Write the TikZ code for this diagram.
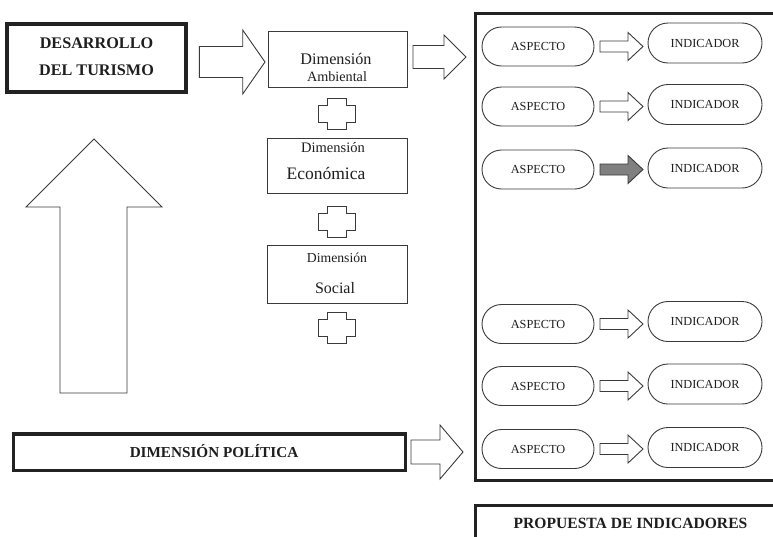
\documentclass[tikz,border=0pt]{standalone}
\usepackage{fontspec}
\setmainfont{Liberation Serif}
\definecolor{ln}{HTML}{3A3A3A}
\definecolor{thk}{HTML}{222222}
\definecolor{txt}{HTML}{1E1E1E}
\definecolor{grayfill}{HTML}{808080}
\newcommand\rkarrow[7]{\filldraw[arrowshape,fill=#1] (#2,#5-#6) -- (#3,#5-#6) -- (#3,#5-#7) -- (#4,#5) -- (#3,#5+#7) -- (#3,#5+#6) -- (#2,#5+#6) -- cycle;}
\newcommand\rkcross[2]{\filldraw[arrowshape,fill=white] (#1-9.5,#2-15.5) -- (#1+9.5,#2-15.5) -- (#1+9.5,#2-8.5) -- (#1+18.5,#2-8.5) -- (#1+18.5,#2+8.5) -- (#1+9.5,#2+8.5) -- (#1+9.5,#2+15.5) -- (#1-9.5,#2+15.5) -- (#1-9.5,#2+8.5) -- (#1-18.5,#2+8.5) -- (#1-18.5,#2-8.5) -- (#1-9.5,#2-8.5) -- cycle;}
\tikzset{
  arrowshape/.style={draw=ln, line width=0.9pt, line join=miter},
  thinbox/.style={draw=ln, line width=0.9pt, fill=white, inner sep=0pt},
  thickbox/.style={draw=thk, line width=3.5pt, fill=white, inner sep=0pt},
  bigbox/.style={draw=thk, line width=3pt, inner sep=0pt},
  pill/.style={draw=ln, line width=0.9pt, rounded corners=19.5pt, inner sep=0pt, text=txt, font=\fontsize{12.3}{14}\selectfont},
  lbl/.style={anchor=base, text=txt, inner sep=0pt},
}
\begin{document}
\begin{tikzpicture}[x=1pt,y=-1pt]
\useasboundingbox (0,0) rectangle (773,536);
\clip (0,0) rectangle (773,536);
% large frames on the right
\node[bigbox, anchor=north west, minimum width=340pt, minimum height=467pt] (frame) at (473.5,11.5) {};
\node[bigbox, anchor=north west, minimum width=340pt, minimum height=60pt] (prop) at (473.5,504) {};
\node[lbl, font=\bfseries\fontsize{15.6}{18}\selectfont] (propt) at (630.5,528) {PROPUESTA DE INDICADORES};
% left boxes
\node[thickbox, minimum width=179pt, minimum height=68pt] (des) at (96.5,58) {};
\node[lbl, font=\bfseries\fontsize{16.2}{18}\selectfont] (des1) at (96.5,48.3) {DESARROLLO};
\node[lbl, font=\bfseries\fontsize{16.2}{18}\selectfont] (des2) at (96.5,75) {DEL TURISMO};
\node[thickbox, minimum width=392pt, minimum height=36.5pt] (pol) at (209.5,452) {};
\node[lbl, font=\bfseries\fontsize{15.2}{18}\selectfont] (polt) at (214,457) {DIMENSIÓN POLÍTICA};
% dimension boxes
\node[thinbox, minimum width=139pt, minimum height=56pt] (amb) at (337.5,59) {};
\node[lbl, font=\fontsize{16.2}{18}\selectfont] (amb1) at (336,64) {Dimensión};
\node[lbl, font=\fontsize{14.2}{16}\selectfont] (amb2) at (337,81) {Ambiental};
\node[thinbox, minimum width=140pt, minimum height=55pt] (eco) at (337,165.5) {};
\node[lbl, font=\fontsize{14.5}{16}\selectfont] (eco1) at (333,152.5) {Dimensión};
\node[lbl, font=\fontsize{17.5}{19}\selectfont] (eco2) at (326,179) {Económica};
\node[thinbox, minimum width=140pt, minimum height=58pt] (soc) at (337,274) {};
\node[lbl, font=\fontsize{13.7}{16}\selectfont] (soc1) at (337,262) {Dimensión};
\node[lbl, font=\fontsize{16}{18}\selectfont] (soc2) at (335,293) {Social};
% block arrows
\rkarrow{white}{199.3}{242.7}{265}{62}{15.5}{32}
\rkarrow{white}{413}{444}{466}{57}{11.5}{22}
\rkarrow{white}{411}{440}{463}{452}{12}{27}
\filldraw[arrowshape, fill=white] (60,393) -- (60,207) -- (26,207) -- (94,139) -- (162,207) -- (127,207) -- (127,393) -- cycle;
% crosses
\rkcross{336.5}{113.5}
\rkcross{336.5}{221.5}
\rkcross{336.5}{327.5}
% aspect / indicator rows
\foreach \i/\ya/\yb/\fc in {1/46.5/43/white, 2/106.5/104.5/white, 3/169.5/168/grayfill, 4/324/321.5/white, 5/386/384/white, 6/449/447.5/white}{
  \node[pill, minimum width=112pt, minimum height=39pt] (asp\i) at (538,\ya) {ASPECTO};
  \node[pill, minimum width=114pt, minimum height=40pt, rounded corners=20pt] (ind\i) at (705,\yb) {INDICADOR};
  \rkarrow{\fc}{600}{628}{643}{\ya}{5.5}{14}
}
\end{tikzpicture}
\end{document}
